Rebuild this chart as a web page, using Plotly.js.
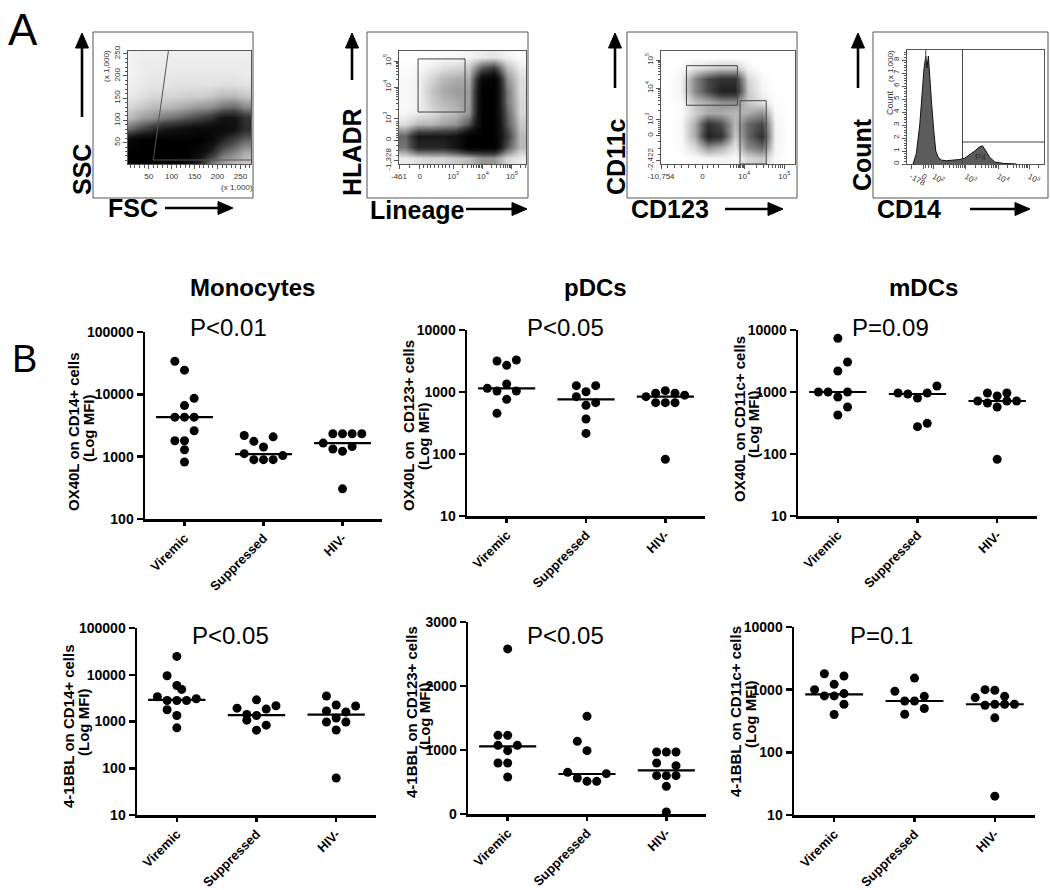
<!DOCTYPE html>
<html><head><meta charset="utf-8">
<script src="https://cdn.plot.ly/plotly-3.0.1.min.js"></script>
<style>html,body{margin:0;padding:0;background:#fff}#chart{width:1050px;height:890px}</style>
</head><body><div id="chart"></div>
<script>
const W = 1050, H = 890;
const F = 'Liberation Sans, Arial, Helvetica, sans-serif';

// ================= PANEL B DATA =================
const groups = ['Viremic', 'Suppressed', 'HIV-'];

// OX40L on monocytes (CD14+), MFI
const monoOX_vir = [34000, 24400, 8630, 6590, 4300, 4300, 4300, 2600, 1800, 1800, 1290, 822];
const monoOX_sup = [2190, 1760, 2080, 1430, 1117, 895, 895, 895, 1040];
const monoOX_hiv = [2330, 2330, 2330, 2330, 1650, 1325, 1217, 1450, 305];
const monoOX_med = [4300, 1100, 1650];
const monoOX_vir_slot = [-1, 0, 1, 0, -1, 0, 1, 1, -1, 0, 0, 0];
const monoOX_sup_slot = [-2, -1, 1, 0, -2, -1, 0, 1, 2];
const monoOX_hiv_slot = [-1, 0, 1, 2, -2, -1, 0, 1, 0];

// OX40L on pDCs (CD123+)
const pdcOX_vir = [3160, 3280, 2690, 1345, 1146, 1038, 1038, 762, 453];
const pdcOX_sup = [1265, 1265, 1011, 841, 673, 610, 367, 215];
const pdcOX_hiv = [841, 955, 1050, 955, 890, 673, 673, 673, 82];
const pdcOX_med = [1146, 760, 841];
const pdcOX_vir_slot = [-1, 1, 0, 0, -2, -1, 1, 0, -1];
const pdcOX_sup_slot = [-1, 1, 0, -1, 1, 0, 0, 0];
const pdcOX_hiv_slot = [-2, -1, 0, 1, 2, -1, 0, 1, 0];

// OX40L on mDCs (CD11c+)
const mdcOX_vir = [7340, 3050, 2180, 1000, 1000, 1000, 830, 573, 425];
const mdcOX_sup = [964, 929, 800, 964, 1250, 276, 312];
const mdcOX_hiv = [716, 964, 665, 861, 573, 964, 716, 716, 82];
const mdcOX_med = [1000, 929, 716];
const mdcOX_vir_slot = [0, 1, 0, -2, -1, 1, 0, 1, 0];
const mdcOX_sup_slot = [-2, -1, 0, 1, 2, 0, 1];
const mdcOX_hiv_slot = [-2, -1, -1, 0, 0, 1, 1, 2, 0];

// 4-1BBL on monocytes
const monoBB_vir = [24700, 9520, 5900, 4850, 3380, 2820, 2820, 2820, 3060, 1780, 1345, 731];
const monoBB_sup = [1930, 2910, 2170, 1410, 1345, 1840, 1068, 835, 652];
const monoBB_hiv = [3510, 2250, 2150, 1680, 1600, 1190, 976, 976, 658, 62];
const monoBB_med = [2910, 1370, 1400];
const monoBB_vir_slot = [0, -1, 0, 0.5, -2, -1, 0, 1, 2, -1, 0, 0];
const monoBB_sup_slot = [-2, 0, 2, -1, 0, 1, -1, 1, 0];
const monoBB_hiv_slot = [-1, 0, 2, -1, 1, 0, -1, 1, 0, 0];

// 4-1BBL on pDCs (linear axis)
const pdcBB_vir = [2580, 1229, 1229, 1073, 1073, 990, 797, 797, 578];
const pdcBB_sup = [1526, 1135, 990, 651, 562, 510, 510, 630];
const pdcBB_hiv = [969, 969, 969, 797, 755, 599, 599, 599, 432, 31];
const pdcBB_med = [1057, 625, 682];
const pdcBB_vir_slot = [0, -1, 0, -1, 1, 0, -1, 0, 0];
const pdcBB_sup_slot = [0, -1, 0, -2, -1, 0, 1, 2];
const pdcBB_hiv_slot = [-1, 0, 1, -1, 1, -1, 0, 1, 0, 0];

// 4-1BBL on mDCs
const mdcBB_vir = [1795, 1650, 1215, 1000, 794, 794, 865, 585, 401];
const mdcBB_sup = [1531, 942, 660, 660, 783, 405, 500];
const mdcBB_hiv = [747, 1000, 977, 783, 564, 585, 585, 585, 355, 20];
const mdcBB_med = [840, 660, 585];
const mdcBB_vir_slot = [-1, 1, 0, -2, -1, 0, 1, 1, 0];
const mdcBB_sup_slot = [0, -2, -1, 0, 1, -1, 1];
const mdcBB_hiv_slot = [-2, -1, 0, 1, -1, 0, 1, 2, 0, 0];

// y tick values
const ticksMonoOX = [100, 1000, 10000, 100000];
const ticksDC = [10, 100, 1000, 10000];
const ticksMonoBB = [10, 100, 1000, 10000, 100000];
const ticksPdcBB = [0, 1000, 2000, 3000];

const cellTitles = ['Monocytes', 'pDCs', 'mDCs'];
const pValues = ['P<0.01', 'P<0.05', 'P=0.09', 'P<0.05', 'P<0.05', 'P=0.1'];
const yTitles = ['OX40L on CD14+ cells', 'OX40L on\u00a0 CD123+ cells', 'OX40L on CD11c+ cells',
                 '4-1BBL on CD14+ cells', '4-1BBL on CD123+ cells', '4-1BBL on CD11c+ cells'];
const yTitle2 = '(Log MFI)';

// ================= PANEL A DATA (flow cytometry, read densities) =================
// A1: FSC vs SSC (x 1,000); density on a grid (0 = empty, 5 = black)
const a1_fsc = [10, 35, 60, 85, 110, 135, 160, 185, 210, 235, 260];
const a1_ssc = [5, 30, 55, 80, 105, 130, 155, 180, 205, 230, 255];
const a1_density = [
  [5, 5, 5, 5, 5, 4.5, 3.5, 2, 1.4, 1, 0.8],
  [5, 5, 5, 5, 5, 5, 4.5, 3.5, 2.3, 1.8, 1.2],
  [4.5, 5, 5, 5, 5, 5, 5, 4.5, 3.5, 2.8, 2.2],
  [2.2, 2.8, 3.3, 3.8, 4, 4.3, 4.5, 4.5, 4.5, 4, 3.3],
  [1.0, 1.4, 1.6, 2, 2.2, 2.5, 2.8, 3.2, 4, 4, 3.2],
  [0.6, 0.8, 1, 1, 1.1, 1.3, 1.5, 1.6, 2, 2.2, 1.7],
  [0.35, 0.45, 0.6, 0.6, 0.6, 0.7, 0.7, 0.8, 1, 1, 0.8],
  [0.25, 0.35, 0.4, 0.4, 0.45, 0.45, 0.45, 0.45, 0.5, 0.5, 0.45],
  [0.2, 0.3, 0.35, 0.35, 0.35, 0.35, 0.35, 0.35, 0.35, 0.35, 0.3],
  [0.2, 0.3, 0.3, 0.3, 0.3, 0.3, 0.3, 0.3, 0.3, 0.3, 0.3],
  [0.2, 0.25, 0.25, 0.25, 0.25, 0.25, 0.25, 0.25, 0.25, 0.25, 0.25]
];
const a1_gate_fsc = [93, 60, 273];
const a1_gate_ssc = [256, 11, 11];

// shared grid (fraction of display scale) for A2 and A3
const gridPos = [0.05, 0.15, 0.25, 0.35, 0.45, 0.55, 0.65, 0.75, 0.85, 0.95];
// A2: Lineage vs HLADR
const a2_density = [
  [0.3, 0.5, 0.6, 0.6, 0.8, 1.0, 1.5, 1.5, 0.6, 0.3],
  [2, 3.5, 3.5, 3.5, 4, 5, 5, 5, 2.5, 1.0],
  [2.2, 3.8, 3.8, 3.8, 4, 5, 5, 5, 3, 1.0],
  [0.5, 1.0, 1.0, 1.3, 1.5, 2.5, 5, 5, 2.5, 0.8],
  [0.15, 0.3, 0.5, 0.8, 1.0, 1.5, 5, 5, 2.3, 0.6],
  [0.1, 0.2, 0.7, 1.0, 1.2, 1.4, 5, 5, 2, 0.6],
  [0.1, 0.2, 0.8, 1.2, 1.4, 1.4, 5, 5, 2, 0.5],
  [0.1, 0.2, 0.6, 1.0, 1.2, 1.2, 4.5, 5, 1.6, 0.5],
  [0.05, 0.1, 0.3, 0.5, 0.6, 0.8, 2.5, 3, 1.0, 0.3],
  [0, 0, 0.05, 0.1, 0.1, 0.2, 0.3, 0.4, 0.2, 0.05]
];
const a2_xticks = [0, 0.164, 0.427, 0.66, 0.889];
const a2_xlabels = ['-461', '0', '10<sup>3</sup>', '10<sup>4</sup>', '10<sup>5</sup>'];
const a2_yticks = [0.03, 0.21, 0.40, 0.68, 0.91];
const a2_ylabels = ['-1,328', '0', '10<sup>3</sup>', '10<sup>4</sup>', '10<sup>5</sup>'];
const a2_gate = [0.15, 0.52, 0.46, 0.93];

// A3: CD123 vs CD11c
const a3_density = [
  [0, 0, 0.1, 0.2, 0.2, 0.1, 0.6, 0.8, 0.1, 0],
  [0, 0.05, 0.6, 1.6, 1.2, 0.4, 1.7, 2.2, 0.2, 0],
  [0, 0.1, 1.2, 3.6, 3.2, 0.8, 2.2, 3.2, 0.2, 0],
  [0, 0.1, 1.2, 3.2, 2.6, 1.0, 2.2, 2.7, 0.2, 0],
  [0, 0.05, 0.7, 1.2, 1.2, 1.0, 1.2, 1.6, 0.1, 0],
  [0, 0.1, 0.9, 1.2, 1.6, 1.6, 0.8, 0.4, 0.05, 0],
  [0, 0.2, 1.7, 2.7, 3.6, 3.6, 0.8, 0.2, 0, 0],
  [0, 0.2, 1.7, 2.7, 3.2, 3.2, 0.6, 0.1, 0, 0],
  [0, 0.05, 0.4, 0.6, 0.8, 0.8, 0.2, 0, 0, 0],
  [0, 0, 0, 0, 0, 0, 0, 0, 0, 0]
];
const a3_xticks = [0, 0.31, 0.62, 0.92];
const a3_xlabels = ['-10,754', '0', '10<sup>4</sup>', '10<sup>5</sup>'];
const a3_yticks = [0.03, 0.25, 0.39, 0.67, 0.92];
const a3_ylabels = ['-2,422', '0', '10<sup>3</sup>', '10<sup>4</sup>', '10<sup>5</sup>'];
const a3_gate_mdc = [0.19, 0.57, 0.52, 0.87];
const a3_gate_pdc = [0.59, 0.785, 0, 0.56];

// A4: CD14 histogram (count x 1,000)
const a4_cd14 = [0.044, 0.068, 0.093, 0.112, 0.124, 0.137, 0.146, 0.156, 0.166, 0.18, 0.195, 0.21, 0.229, 0.251,
                 0.288, 0.337, 0.385, 0.422, 0.459, 0.495, 0.527, 0.551, 0.576, 0.605, 0.641, 0.702, 0.8];
const a4_count = [0, 0.8, 3.0, 6.0, 7.3, 8.3, 7.4, 8.3, 6.6, 4.6, 2.6, 1.0, 0.5, 0.3,
                  0.25, 0.3, 0.35, 0.45, 0.7, 1.0, 1.3, 1.4, 1.0, 0.5, 0.15, 0.05, 0];
const a4_xticks = [0.03, 0.117, 0.195, 0.43, 0.666, 0.893];
const a4_xlabels = ['-178', '0', '10<sup>2</sup>', '10<sup>3</sup>', '10<sup>4</sup>', '10<sup>5</sup>'];
const a4_yticks = [0, 1, 2, 3, 4, 5, 6, 7, 8];
const a4_gate_x = 0.405, a4_gate_y = 1.69, a4_marker_x = 0.137;

// ================= BUILD =================
const traces = [], shapes = [], annotations = [];
const layout = {
  width: W, height: H, margin: {l: 0, r: 0, t: 0, b: 0},
  paper_bgcolor: '#fff', plot_bgcolor: '#fff', showlegend: false,
  font: {family: F, color: '#000'}, hovermode: 'closest'
};
const dX = (a, b) => [a / W, b / W];
const dY = (top, bot) => [1 - bot / H, 1 - top / H];
const PX = x => x / W, PY = y => 1 - y / H;

function ann(text, x, y, size, opts = {}) {
  annotations.push(Object.assign({
    text: text, xref: 'paper', yref: 'paper', x: PX(x), y: PY(y),
    xanchor: 'center', yanchor: 'middle', showarrow: false,
    font: {family: F, size: size, color: '#000', weight: opts.bold ? 'bold' : 'normal'}
  }, opts.extra || {}));
}
function arrow(x0, y0, x1, y1) {
  const dx = x1 - x0, dy = y1 - y0, L = Math.hypot(dx, dy), ux = dx / L, uy = dy / L;
  const hl = 15, hw = 6.5;
  const bx = x1 - ux * hl, by = y1 - uy * hl;
  shapes.push({type: 'line', xref: 'paper', yref: 'paper', x0: PX(x0), y0: PY(y0),
    x1: PX(bx + ux * 2), y1: PY(by + uy * 2), line: {color: '#000', width: 2.6}});
  const p1x = bx - uy * hw, p1y = by + ux * hw, p2x = bx + uy * hw, p2y = by - ux * hw;
  shapes.push({type: 'path', xref: 'paper', yref: 'paper',
    path: `M ${PX(x1)} ${PY(y1)} L ${PX(p1x)} ${PY(p1y)} L ${PX(p2x)} ${PY(p2y)} Z`,
    fillcolor: '#000', line: {color: '#000', width: 1}});
}
function decMinors(lo, hi) { const o = []; for (let m = 2; m <= 9; m++) { const v = lo + Math.log10(m) * (hi - lo); if (v <= 1) o.push(v); } return o; }
function linMinors(a, b, n) { const o = []; for (let i = 1; i < n; i++) o.push(a + (b - a) * i / n); return o; }

const greyScale = [[0, '#ffffff'], [0.04, '#f3f3f3'], [0.12, '#d6d6d6'], [0.3, '#959595'], [0.55, '#444444'], [0.78, '#141414'], [1, '#000000']];
const flowTickFont = {family: F, size: 8, color: '#333'};
function flowAxis(extra) {
  return Object.assign({showline: true, linecolor: '#555', linewidth: 1, mirror: true,
    ticks: 'outside', ticklen: 4, tickwidth: 1, tickcolor: '#555', showgrid: false, zeroline: false,
    tickfont: flowTickFont, fixedrange: true}, extra);
}
function minorArr(vals) { return {tickmode: 'array', tickvals: vals, ticks: 'outside', ticklen: 2.5, tickcolor: '#555', showgrid: false}; }

// ---- A1 ----
layout.xaxis = flowAxis({domain: dX(128, 251), anchor: 'y', range: [5, 273], tickmode: 'linear', tick0: 0, dtick: 50,
  minor: {dtick: 10, ticks: 'outside', ticklen: 2.5, tickcolor: '#555', showgrid: false}});
layout.yaxis = flowAxis({domain: dY(51, 164), anchor: 'x', range: [2, 256], tickmode: 'linear', tick0: 0, dtick: 50, tickangle: -90,
  minor: {dtick: 10, ticks: 'outside', ticklen: 2.5, tickcolor: '#555', showgrid: false}});
traces.push({type: 'heatmap', x: a1_fsc, y: a1_ssc, z: a1_density, zmin: 0, zmax: 5, zsmooth: 'best',
  colorscale: greyScale, showscale: false, hoverinfo: 'skip', xaxis: 'x', yaxis: 'y'});
traces.push({type: 'scatter', mode: 'lines', x: a1_gate_fsc, y: a1_gate_ssc, xaxis: 'x', yaxis: 'y',
  line: {color: '#555', width: 1}, hoverinfo: 'skip', cliponaxis: true});

// ---- A2 ----
layout.xaxis2 = flowAxis({domain: dX(399, 526), anchor: 'y2', range: [0, 1], tickmode: 'array', tickvals: a2_xticks, ticktext: a2_xlabels,
  minor: minorArr([].concat(linMinors(0, 0.164, 2), linMinors(0.164, 0.427, 9), decMinors(0.427, 0.66), decMinors(0.66, 0.889), decMinors(0.889, 1.118)))});
layout.yaxis2 = flowAxis({domain: dY(51, 164), anchor: 'x2', range: [0, 1], tickmode: 'array', tickvals: a2_yticks, ticktext: a2_ylabels, tickangle: -90,
  minor: minorArr([].concat(linMinors(0.03, 0.21, 4), linMinors(0.21, 0.40, 9), decMinors(0.40, 0.68), decMinors(0.68, 0.91)))});
traces.push({type: 'heatmap', x: gridPos, y: gridPos, z: a2_density, zmin: 0, zmax: 5, zsmooth: 'best',
  colorscale: greyScale, showscale: false, hoverinfo: 'skip', xaxis: 'x2', yaxis: 'y2'});
shapes.push({type: 'rect', xref: 'x2', yref: 'y2', x0: a2_gate[0], x1: a2_gate[1], y0: a2_gate[2], y1: a2_gate[3], line: {color: '#444', width: 1}});

// ---- A3 ----
layout.xaxis3 = flowAxis({domain: dX(661, 795), anchor: 'y3', range: [0, 1], tickmode: 'array', tickvals: a3_xticks, ticktext: a3_xlabels,
  minor: minorArr([].concat(linMinors(0, 0.31, 6), linMinors(0.31, 0.47, 4), decMinors(0.47, 0.62), decMinors(0.62, 0.92), decMinors(0.92, 1.22)))});
layout.yaxis3 = flowAxis({domain: dY(51, 164), anchor: 'x3', range: [0, 1], tickmode: 'array', tickvals: a3_yticks, ticktext: a3_ylabels, tickangle: -90,
  minor: minorArr([].concat(linMinors(0.03, 0.25, 4), linMinors(0.25, 0.39, 8), decMinors(0.39, 0.67), decMinors(0.67, 0.92)))});
traces.push({type: 'heatmap', x: gridPos, y: gridPos, z: a3_density, zmin: 0, zmax: 5, zsmooth: 'best',
  colorscale: greyScale, showscale: false, hoverinfo: 'skip', xaxis: 'x3', yaxis: 'y3'});
shapes.push({type: 'rect', xref: 'x3', yref: 'y3', x0: a3_gate_mdc[0], x1: a3_gate_mdc[1], y0: a3_gate_mdc[2], y1: a3_gate_mdc[3], line: {color: '#444', width: 1}});
shapes.push({type: 'rect', xref: 'x3', yref: 'y3', x0: a3_gate_pdc[0], x1: a3_gate_pdc[1], y0: a3_gate_pdc[2], y1: a3_gate_pdc[3], line: {color: '#444', width: 1}});

// ---- A4 ----
layout.xaxis4 = flowAxis({domain: dX(907, 1044), anchor: 'y4', range: [0, 1], tickmode: 'array', tickvals: a4_xticks, ticktext: a4_xlabels,
  minor: minorArr([].concat(linMinors(0.117, 0.195, 4), decMinors(0.195, 0.43), decMinors(0.43, 0.666), decMinors(0.666, 0.893), decMinors(0.893, 1.12)))});
layout.yaxis4 = flowAxis({domain: dY(50, 164), anchor: 'x4', range: [0, 8.77], tickmode: 'array', tickvals: a4_yticks, ticktext: a4_yticks.map(String), tickangle: -90,
  minor: {dtick: 0.2, ticks: 'outside', ticklen: 2.5, tickcolor: '#555', showgrid: false}});
traces.push({type: 'scatter', mode: 'lines', x: a4_cd14, y: a4_count, xaxis: 'x4', yaxis: 'y4',
  fill: 'tozeroy', fillcolor: '#5c5c5c', line: {color: '#111', width: 1, shape: 'linear'}, hoverinfo: 'x+y'});
shapes.push({type: 'line', xref: 'x4', yref: 'y4', x0: a4_gate_x, x1: a4_gate_x, y0: 0, y1: 8.77, line: {color: '#444', width: 1}});
shapes.push({type: 'line', xref: 'x4', yref: 'y4', x0: a4_gate_x, x1: 1, y0: a4_gate_y, y1: a4_gate_y, line: {color: '#444', width: 1}});
shapes.push({type: 'line', xref: 'x4', yref: 'y4', x0: a4_marker_x, x1: a4_marker_x, y0: 7.6, y1: 8.77, line: {color: '#444', width: 1}});
annotations.push({text: 'P4', xref: 'x4', yref: 'y4', x: 0.54, y: 0.55, showarrow: false,
  font: {family: F, size: 9, color: '#333'}});

// outer frames of the flow plots
[[93, 32, 253, 198], [367, 32, 528, 198], [627, 32, 797, 198], [873, 32, 1048, 198]].forEach(r => {
  shapes.push({type: 'rect', xref: 'paper', yref: 'paper', x0: PX(r[0]), x1: PX(r[2]), y0: PY(r[3]), y1: PY(r[1]),
    line: {color: '#555', width: 1}, layer: 'below'});
});

// Panel A labels and arrows
ann('A', 23, 29, 44);
ann('SSC', 82, 170, 25, {bold: true, extra: {textangle: -90}});
ann('FSC', 133, 208, 25, {bold: true});
arrow(82, 117, 82, 33); arrow(165, 208, 233, 208);
ann('HLADR', 352, 152, 25, {bold: true, extra: {textangle: -90}});
ann('Lineage', 417, 210, 25, {bold: true});
arrow(352, 80, 352, 33); arrow(466, 209, 527, 209);
ann('CD11c', 616, 157, 25, {bold: true, extra: {textangle: -90}});
ann('CD123', 670, 209, 25, {bold: true});
arrow(615, 88, 615, 33); arrow(725, 209, 783, 209);
ann('Count', 862, 155, 25, {bold: true, extra: {textangle: -90}});
ann('CD14', 909, 209, 25, {bold: true});
arrow(858, 88, 858, 33); arrow(970, 209, 1030, 209);
// small axis notes
ann('(x 1,000)', 106, 66, 8, {extra: {textangle: -90, font: {family: F, size: 8, color: '#333'}}});
ann('(x 1,000)', 237, 187, 8, {extra: {font: {family: F, size: 8, color: '#333'}}});
ann('(x 1,000)', 890, 66, 8, {extra: {textangle: -90, font: {family: F, size: 8, color: '#333'}}});
ann('Count', 890, 103, 9, {extra: {textangle: -90, font: {family: F, size: 9, color: '#333'}}});

// ================= PANEL B =================
const SLOT = 0.122, HALF = 0.36;
const dotPlots = [
  {n: 5, box: [145, 382, 332, 519], type: 'log', ticks: ticksMonoOX, data: [monoOX_vir, monoOX_sup, monoOX_hiv],
   slots: [monoOX_vir_slot, monoOX_sup_slot, monoOX_hiv_slot], med: monoOX_med, tx: [74, 88], ty: [432, 429], p: [228, 327]},
  {n: 6, box: [467, 705, 330, 516], type: 'log', ticks: ticksDC, data: [pdcOX_vir, pdcOX_sup, pdcOX_hiv],
   slots: [pdcOX_vir_slot, pdcOX_sup_slot, pdcOX_hiv_slot], med: pdcOX_med, tx: [408, 423], ty: [426, 437], p: [565, 327]},
  {n: 7, box: [798, 1037, 330, 516], type: 'log', ticks: ticksDC, data: [mdcOX_vir, mdcOX_sup, mdcOX_hiv],
   slots: [mdcOX_vir_slot, mdcOX_sup_slot, mdcOX_hiv_slot], med: mdcOX_med, tx: [739, 754], ty: [419, 425], p: [890, 327]},
  {n: 8, box: [137, 376, 628, 815], type: 'log', ticks: ticksMonoBB, data: [monoBB_vir, monoBB_sup, monoBB_hiv],
   slots: [monoBB_vir_slot, monoBB_sup_slot, monoBB_hiv_slot], med: monoBB_med, tx: [68, 83], ty: [726, 723], p: [230, 635]},
  {n: 9, box: [468, 706, 622, 814], type: 'linear', ticks: ticksPdcBB, data: [pdcBB_vir, pdcBB_sup, pdcBB_hiv],
   slots: [pdcBB_vir_slot, pdcBB_sup_slot, pdcBB_hiv_slot], med: pdcBB_med, tx: [411, 424], ty: [712, 717], p: [565, 635]},
  {n: 10, box: [794, 1035, 627, 815], type: 'log', ticks: ticksDC, data: [mdcBB_vir, mdcBB_sup, mdcBB_hiv],
   slots: [mdcBB_vir_slot, mdcBB_sup_slot, mdcBB_hiv_slot], med: mdcBB_med, tx: [735, 750], ty: [712, 715], p: [881, 635]}
];
const boldTick = {family: F, size: 14, color: '#000', weight: 'bold'};
const boldCat = {family: F, size: 13, color: '#000', weight: 'bold'};
dotPlots.forEach((p, k) => {
  const n = p.n;
  const lo = p.ticks[0], hi = p.ticks[p.ticks.length - 1];
  layout['xaxis' + n] = {domain: dX(p.box[0], p.box[1]), anchor: 'y' + n, range: [-0.5, 2.5],
    tickmode: 'array', tickvals: [0, 1, 2], ticktext: groups, tickangle: -45, tickfont: boldCat,
    showline: true, linecolor: '#000', linewidth: 2.5, ticks: 'outside', ticklen: 4, tickwidth: 2.5, tickcolor: '#000',
    showgrid: false, zeroline: false, fixedrange: true};
  layout['yaxis' + n] = {domain: dY(p.box[2], p.box[3]), anchor: 'x' + n, type: p.type,
    range: p.type === 'log' ? [Math.log10(lo), Math.log10(hi)] : [lo, hi],
    tickmode: 'array', tickvals: p.ticks, ticktext: p.ticks.map(String), tickfont: boldTick,
    showline: true, linecolor: '#000', linewidth: 2.5, ticks: 'outside', ticklen: 6, tickwidth: 2.5, tickcolor: '#000',
    showgrid: false, zeroline: false, fixedrange: true};
  p.data.forEach((vals, g) => {
    traces.push({type: 'scatter', mode: 'markers', xaxis: 'x' + n, yaxis: 'y' + n,
      x: vals.map((v, i) => g + p.slots[g][i] * SLOT), y: vals, name: groups[g],
      marker: {color: '#000', size: 9, line: {width: 0}}, cliponaxis: false, hoverinfo: 'y'});
  });
  const mx = [], my = [];
  p.med.forEach((m, g) => { mx.push(g - HALF, g + HALF, null); my.push(m, m, null); });
  traces.push({type: 'scatter', mode: 'lines', xaxis: 'x' + n, yaxis: 'y' + n, x: mx, y: my,
    line: {color: '#000', width: 2.2}, hoverinfo: 'skip', cliponaxis: false});
  ann(yTitles[k], p.tx[0], p.ty[0], 15, {bold: true, extra: {textangle: -90}});
  ann(yTitle2, p.tx[1], p.ty[1], 15, {bold: true, extra: {textangle: -90}});
  ann(pValues[k], p.p[0], p.p[1], 24);
});
ann('B', 24.5, 359, 38);
ann(cellTitles[0], 252, 287, 24, {bold: true});
ann(cellTitles[1], 595, 287, 24, {bold: true});
ann(cellTitles[2], 923, 287, 24, {bold: true});

layout.shapes = shapes;
layout.annotations = annotations;
Plotly.newPlot('chart', traces, layout, {displayModeBar: false, staticPlot: true});
</script>
</body></html>
